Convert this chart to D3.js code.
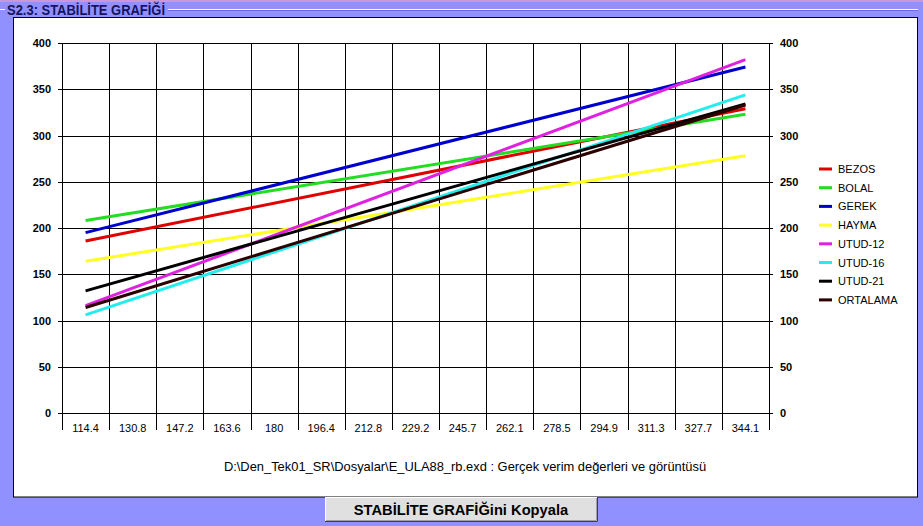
<!DOCTYPE html>
<html>
<head>
<meta charset="utf-8">
<script src="https://cdn.jsdelivr.net/npm/d3@7"></script>
<style>
  body { margin: 0; background: #9090ff; }
  svg { display: block; }
  text { font-family: "Liberation Sans", Arial, sans-serif; }
</style>
</head>
<body>
<svg id="chart" width="923" height="526"></svg>
<script>
"use strict";

// x categories (band labels)
var categories = ["114.4", "130.8", "147.2", "163.6", "180", "196.4", "212.8", "229.2",
                  "245.7", "262.1", "278.5", "294.9", "311.3", "327.7", "344.1"];

// y ticks
var yTicks = [0, 50, 100, 150, 200, 250, 300, 350, 400];

// series (straight lines: value at first and last category)
var seriesNames  = ["BEZOS", "BOLAL", "GEREK", "HAYMA", "UTUD-12", "UTUD-16", "UTUD-21", "ORTALAMA"];
var seriesColors = ["#e00000", "#22dd22", "#0000cc", "#ffff22", "#e022e0", "#22eeee", "#000000", "#2a0000"];
var startValues  = [186, 208, 195, 164, 116, 106, 132, 114];
var endValues    = [329, 323, 374, 278, 382, 344, 334, 333];

var svg = d3.select("#chart");

var margin = {left: 62, right: 769, top: 43, bottom: 413}; // plot area edges

var x = d3.scaleBand().domain(categories).range([margin.left, margin.right]).padding(0),
    y = d3.scaleLinear().domain([0, 400]).range([margin.bottom, margin.top]);

// window chrome: top pink strip, group box line and title
svg.append("rect").attr("x", 0).attr("y", 0).attr("width", 923).attr("height", 2).attr("fill", "#c898d8");
svg.append("line").attr("x1", 0).attr("x2", 5).attr("y1", 9.5).attr("y2", 9.5).attr("stroke", "#fff");
svg.append("line").attr("x1", 168).attr("x2", 918).attr("y1", 9.5).attr("y2", 9.5).attr("stroke", "#fff");
svg.append("line").attr("x1", 168).attr("x2", 918).attr("y1", 10.5).attr("y2", 10.5).attr("stroke", "#6a6ad0");
svg.append("text")
    .attr("x", 7).attr("y", 15)
    .attr("font-size", 14.5).attr("font-weight", "bold").attr("fill", "#14145e")
    .attr("textLength", 158).attr("lengthAdjust", "spacingAndGlyphs")
    .text("S2.3: STABİLİTE GRAFİĞİ");

// white chart panel
svg.append("rect")
    .attr("x", 13.5).attr("y", 17.5).attr("width", 904).attr("height", 479.5)
    .attr("fill", "#fff").attr("stroke", "#000").attr("stroke-width", 1);

// horizontal grid lines with tick stubs on both sides
svg.append("g").selectAll("line").data(yTicks).join("line")
    .attr("x1", margin.left - 4).attr("x2", margin.right + 4)
    .attr("y1", function(d) { return Math.round(y(d)) + 0.5; })
    .attr("y2", function(d) { return Math.round(y(d)) + 0.5; })
    .attr("stroke", "#000");

// vertical grid lines at band boundaries, extending below the axis as ticks
var boundaries = categories.map(function(c) { return x(c); }).concat([margin.right]);
svg.append("g").selectAll("line").data(boundaries).join("line")
    .attr("x1", function(d) { return Math.round(d) + 0.5; })
    .attr("x2", function(d) { return Math.round(d) + 0.5; })
    .attr("y1", margin.top).attr("y2", margin.bottom + 17)
    .attr("stroke", "#000");

// left and right y labels
svg.append("g").selectAll("text").data(yTicks).join("text")
    .attr("x", 51).attr("y", function(d) { return y(d) + 4; })
    .attr("text-anchor", "end").attr("font-size", 11).attr("font-weight", "bold")
    .text(function(d) { return d; });
svg.append("g").selectAll("text").data(yTicks).join("text")
    .attr("x", 780).attr("y", function(d) { return y(d) + 4; })
    .attr("font-size", 11).attr("font-weight", "bold")
    .text(function(d) { return d; });

// x labels
svg.append("g").selectAll("text").data(categories).join("text")
    .attr("x", function(d) { return x(d) + x.bandwidth() / 2; })
    .attr("y", margin.bottom + 19)
    .attr("text-anchor", "middle").attr("font-size", 11)
    .text(function(d) { return d; });

// series lines
var line = d3.line()
    .x(function(d) { return x(d.cat) + x.bandwidth() / 2; })
    .y(function(d) { return y(d.v); });

svg.append("g").selectAll("path").data(seriesNames).join("path")
    .attr("d", function(d, i) {
        return line([
            {cat: categories[0], v: startValues[i]},
            {cat: categories[categories.length - 1], v: endValues[i]}
        ]);
    })
    .attr("fill", "none")
    .attr("stroke", function(d, i) { return seriesColors[i]; })
    .attr("stroke-width", 3);

// legend
var legend = svg.append("g").selectAll("g").data(seriesNames).join("g")
    .attr("transform", function(d, i) { return "translate(819," + (169 + i * 18.7) + ")"; });
legend.append("line")
    .attr("x1", 0).attr("x2", 13).attr("y1", 0).attr("y2", 0)
    .attr("stroke", function(d, i) { return seriesColors[i]; })
    .attr("stroke-width", 3);
legend.append("text")
    .attr("x", 19).attr("y", 4)
    .attr("font-size", 11)
    .text(function(d) { return d; });

// file caption
svg.append("text")
    .attr("x", 465).attr("y", 471)
    .attr("text-anchor", "middle").attr("font-size", 12.9)
    .text("D:\\Den_Tek01_SR\\Dosyalar\\E_ULA88_rb.exd : Gerçek verim değerleri ve görüntüsü");

// copy button
var btn = svg.append("g");
btn.append("rect").attr("x", 325).attr("y", 497).attr("width", 273).attr("height", 25).attr("fill", "#e0e0e0");
btn.append("path").attr("d", "M325.5,521.5 V497.5 H597.5").attr("fill", "none").attr("stroke", "#fff");
btn.append("path").attr("d", "M325,521.5 H597.5 V497").attr("fill", "none").attr("stroke", "#404040");
btn.append("path").attr("d", "M326,520.5 H596.5 V498").attr("fill", "none").attr("stroke", "#a0a0a0");
btn.append("text")
    .attr("x", 461).attr("y", 515)
    .attr("text-anchor", "middle").attr("font-size", 14.7).attr("font-weight", "bold")
    .text("STABİLİTE GRAFİĞini Kopyala");
</script>
</body>
</html>
